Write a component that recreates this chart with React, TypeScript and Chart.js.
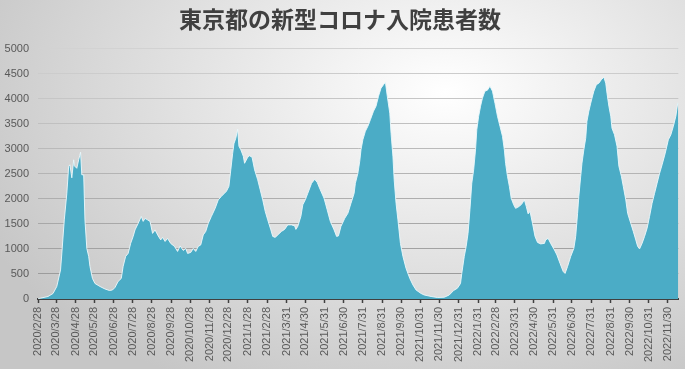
import React, { useEffect, useRef } from "react";
import { Chart, registerables } from "chart.js";

Chart.register(...registerables);

const chartTitle = "東京都の新型コロナ入院患者数";

const startDate = "2020/2/28";

const tickLabels = [
  "2020/2/28", "2020/3/28", "2020/4/28", "2020/5/28", "2020/6/28", "2020/7/28",
  "2020/8/28", "2020/9/28", "2020/10/28", "2020/11/28", "2020/12/28", "2021/1/28",
  "2021/2/28", "2021/3/31", "2021/4/30", "2021/5/31", "2021/6/30", "2021/7/31",
  "2021/8/31", "2021/9/30", "2021/10/31", "2021/11/30", "2021/12/31", "2022/1/31",
  "2022/2/28", "2022/3/31", "2022/4/30", "2022/5/31", "2022/6/30", "2022/7/31",
  "2022/8/31", "2022/9/30", "2022/10/31", "2022/11/30",
];

const yTicks = [0, 500, 1000, 1500, 2000, 2500, 3000, 3500, 4000, 4500, 5000];

// days since 2020/2/28
const dayIndex = [
  0, 16, 24, 30, 36, 38, 42, 46, 49, 51, 54, 57, 58, 62, 65, 68, 70, 73, 75, 78,
  81, 83, 87, 91, 99, 107, 114, 119, 123, 128, 133, 136, 140, 144, 148, 152, 155, 160, 165, 168,
  171, 175, 179, 183, 187, 192, 196, 199, 203, 207, 212, 218, 223, 227, 232, 236, 239, 244, 248, 252,
  256, 260, 264, 268, 272, 277, 283, 288, 293, 297, 301, 305, 308, 311, 313, 316, 319, 321, 324, 328,
  330, 335, 338, 342, 346, 351, 355, 359, 363, 367, 372, 375, 379, 383, 389, 394, 399, 405, 410, 412,
  415, 420, 423, 427, 431, 437, 442, 446, 451, 457, 462, 467, 473, 477, 480, 484, 490, 495, 500, 505,
  507, 511, 514, 516, 519, 523, 527, 531, 536, 540, 544, 548, 552, 555, 558, 562, 564, 567, 569, 572,
  575, 579, 583, 588, 594, 599, 604, 612, 617, 628, 638, 649, 657, 664, 670, 675, 677, 681, 684, 687,
  690, 693, 696, 699, 701, 704, 707, 710, 714, 718, 722, 726, 730, 734, 738, 742, 745, 747, 750, 753,
  756, 760, 763, 769, 773, 777, 780, 783, 786, 790, 794, 798, 803, 809, 811, 815, 819, 825, 829, 834,
  839, 842, 846, 851, 856, 859, 862, 864, 867, 869, 872, 875, 877, 880, 883, 885, 888, 892, 896, 900,
  904, 907, 909, 912, 915, 917, 921, 925, 928, 932, 935, 939, 942, 947, 951, 955, 958, 961, 965, 969,
  973, 977, 981, 985, 989, 993, 997, 1002, 1007, 1011, 1015, 1019, 1022, 1023,
];

const inpatients = [
  5, 50, 110, 250, 580, 900, 1580, 2100, 2650, 2680, 2420, 2780, 2660, 2610, 2780, 2930, 2480, 2480, 1580, 1010,
  850, 650, 410, 310, 250, 200, 170, 180, 230, 350, 410, 650, 850, 910, 1110, 1250, 1380, 1510, 1650, 1550,
  1610, 1580, 1550, 1310, 1380, 1260, 1180, 1230, 1150, 1210, 1110, 1050, 950, 1060, 970, 1010, 910, 930, 1010, 950,
  1050, 1080, 1280, 1350, 1510, 1650, 1810, 1980, 2050, 2100, 2150, 2250, 2580, 2910, 3100, 3210, 3390, 3050, 2980, 2850,
  2710, 2830, 2860, 2830, 2580, 2380, 2180, 1980, 1750, 1580, 1380, 1250, 1230, 1280, 1350, 1390, 1480, 1480, 1460, 1390,
  1450, 1650, 1880, 1980, 2110, 2310, 2390, 2330, 2180, 2010, 1780, 1550, 1380, 1250, 1260, 1450, 1610, 1710, 1910, 2110,
  2310, 2510, 2750, 2980, 3180, 3350, 3450, 3580, 3750, 3850, 4050, 4210, 4280, 4330, 4050, 3710, 3310, 2850, 2380, 1910,
  1580, 1110, 850, 610, 410, 280, 180, 110, 80, 50, 30, 35, 80, 170, 215, 310, 510, 850, 1050, 1310,
  1780, 2310, 2580, 2980, 3380, 3650, 3850, 4010, 4150, 4170, 4250, 4150, 3910, 3650, 3450, 3250, 2980, 2710, 2450, 2250,
  2010, 1880, 1810, 1850, 1900, 1980, 1850, 1700, 1750, 1510, 1250, 1130, 1100, 1110, 1180, 1210, 1110, 980, 880, 710,
  550, 510, 650, 850, 1010, 1250, 1710, 2050, 2450, 2710, 2980, 3210, 3550, 3750, 3910, 4010, 4150, 4280, 4310, 4380,
  4430, 4310, 4110, 3850, 3650, 3410, 3280, 3050, 2650, 2450, 2250, 1980, 1710, 1510, 1350, 1180, 1050, 1000, 1110, 1250,
  1410, 1650, 1910, 2110, 2310, 2510, 2680, 2910, 3180, 3280, 3450, 3650, 3910, 3900,
];

function toUtc(s: string): number {
  const [y, m, d] = s.split("/").map(Number);
  return Date.UTC(y, m - 1, d);
}

const t0 = toUtc(startDate);
const tickDays = tickLabels.map((s) => Math.round((toUtc(s) - t0) / 86400000));

export default function App() {
  const ref = useRef<HTMLCanvasElement | null>(null);

  useEffect(() => {
    const canvas = ref.current;
    if (!canvas) return;
    const points = dayIndex.map((d, i) => ({ x: d, y: inpatients[i] }));
    const chart = new Chart(canvas, {
      type: "line",
      data: {
        datasets: [
          {
            data: points,
            fill: "origin",
            backgroundColor: "#4bacc6",
            borderColor: "rgba(235,248,252,0.9)",
            borderWidth: 1,
            pointRadius: 0,
            tension: 0,
          },
        ],
      },
      options: {
        responsive: false,
        animation: false,
        layout: { padding: { left: 0, right: 5, top: 0, bottom: 0 } },
        plugins: {
          legend: { display: false },
          tooltip: { enabled: false },
          title: {
            display: true,
            text: chartTitle,
            color: "#404040",
            font: { family: "'Noto Sans CJK JP', sans-serif", size: 23, weight: "bold" },
            padding: { top: 5, bottom: 16 },
          },
        },
        scales: {
          x: {
            type: "linear",
            min: 0,
            max: dayIndex[dayIndex.length - 1],
            afterBuildTicks: (scale: any) => {
              scale.ticks = tickDays.map((v) => ({ value: v }));
            },
            afterFit: (scale: any) => {
              scale.height = 70;
            },
            ticks: {
              autoSkip: false,
              maxRotation: 90,
              minRotation: 90,
              color: "#595959",
              padding: 4,
              font: { family: "'Liberation Sans', Arial, sans-serif", size: 11 },
              callback: (value: any) => {
                const idx = tickDays.indexOf(Math.round(Number(value)));
                return idx >= 0 ? tickLabels[idx] : "";
              },
            },
            grid: {
              display: true,
              drawOnChartArea: false,
              drawTicks: true,
              tickLength: 4,
              color: "#404040",
              tickWidth: 1.5,
            },
            border: { display: true, color: "#404040", width: 2 },
          },
          y: {
            min: 0,
            max: 5000,
            afterBuildTicks: (scale: any) => {
              scale.ticks = yTicks.map((v) => ({ value: v }));
            },
            afterFit: (scale: any) => {
              scale.width = 38;
            },
            ticks: {
              color: "#595959",
              padding: 9,
              font: { family: "'Liberation Sans', Arial, sans-serif", size: 11 },
              callback: (value: any) => String(value),
            },
            grid: {
              color: (ctx: any) => {
                const v = ctx.tick ? ctx.tick.value : 0;
                const g = Math.round(150 + (v / 5000) * 60);
                return `rgb(${g},${g},${g})`;
              },
              drawTicks: false,
              lineWidth: 1,
            },
            border: { display: false },
          },
        },
      },
    });
    return () => chart.destroy();
  }, []);

  return (
    <div
      style={{
        position: "absolute",
        left: 0,
        top: 0,
        width: 685,
        height: 369,
        background:
          "radial-gradient(ellipse 75% 90% at 65% 25%, #ffffff 0%, #ebebeb 35%, #c6c6c6 100%)",
      }}
    >
      <canvas ref={ref} width={685} height={369} style={{ display: "block" }} />
    </div>
  );
}
